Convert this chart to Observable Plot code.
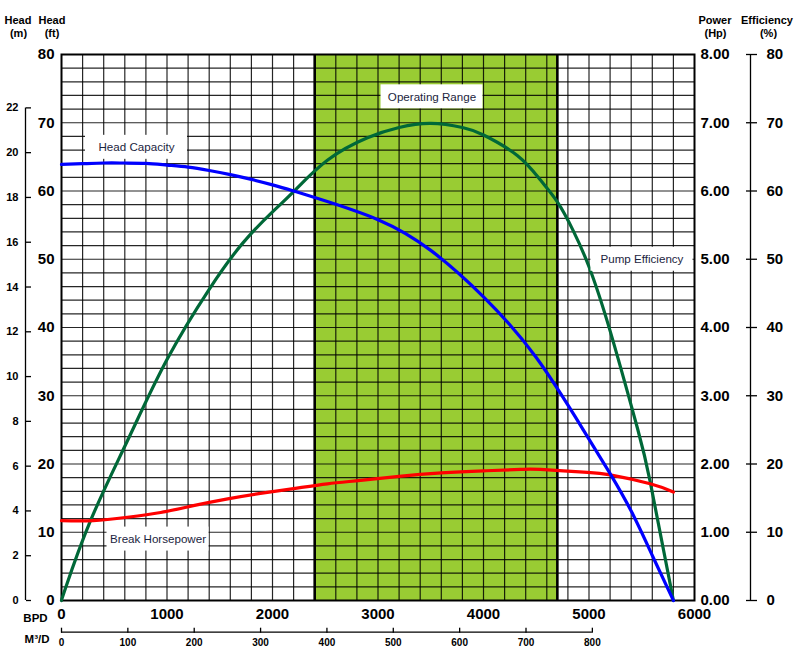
<!DOCTYPE html>
<html><head><meta charset="utf-8">
<script src="https://cdn.jsdelivr.net/npm/d3@7"></script>
<script src="https://cdn.jsdelivr.net/npm/@observablehq/plot@0.6"></script>
<style>html,body{margin:0;padding:0;background:#fff}svg{display:block}</style>
</head><body><div id="chart"></div>
<script>
// ---- Data ----
// Head capacity (ft) vs flow (BPD)
const headBpd = [0, 200, 400, 600, 800, 1000, 1200, 1400, 1600, 1800, 2000, 2200, 2430, 3000, 3500, 4000, 4500, 4950, 5200, 5400, 5600, 5800];
const headFt  = [63.9, 64.0, 64.1, 64.1, 64.05, 63.8, 63.5, 63.0, 62.4, 61.7, 60.9, 60.0, 58.9, 55.8, 51.3, 44.5, 35.6, 24.9, 18.6, 13.1, 6.6, 0];
// Pump efficiency (%) vs flow (BPD)
const effBpd = [0, 40, 275, 625, 1000, 1400, 1720, 2010, 2200, 2520, 2900, 3200, 3500, 3800, 4000, 4320, 4540, 4700, 4850, 5000, 5200, 5460, 5580, 5800];
const effPct = [0, 1.9, 11.7, 23.4, 35.3, 45.6, 52.4, 57.1, 59.9, 64.5, 67.8, 69.3, 69.9, 69.3, 68.2, 65.2, 61.6, 58.4, 54.2, 48.9, 39.5, 25.2, 17.4, 0];
// Break horsepower (Hp) vs flow (BPD)
const bhpBpd = [0, 300, 625, 940, 1250, 1575, 1885, 2200, 2520, 2835, 3200, 3600, 4000, 4350, 4540, 4950, 5200, 5580, 5800];
const bhpHp  = [1.17, 1.17, 1.22, 1.29, 1.39, 1.49, 1.57, 1.64, 1.71, 1.76, 1.82, 1.87, 1.90, 1.92, 1.92, 1.88, 1.84, 1.71, 1.59];
// Operating range (BPD)
const operatingRange = [2400, 4700];

// Tick labels
const bpdTicks    = [0, 1000, 2000, 3000, 4000, 5000, 6000];
const m3dTicks    = [0, 100, 200, 300, 400, 500, 600, 700, 800];
const headFtTicks = [0, 10, 20, 30, 40, 50, 60, 70, 80];
const headMTicks  = [0, 2, 4, 6, 8, 10, 12, 14, 16, 18, 20, 22];
const powerTicks  = [0, 1, 2, 3, 4, 5, 6, 7, 8];
const effTicks    = [0, 10, 20, 30, 40, 50, 60, 70, 80];

// Annotation labels (anchored in data units: BPD, ft)
const labelText = ["Head Capacity", "Operating Range", "Pump Efficiency", "Break Horsepower"];
const labelBpd  = [711, 3512, 5502, 915];
const labelFt   = [66.4, 73.8, 50.0, 9.0];

// ---- Conversions ----
const FT_PER_M = 3.28084;
const BPD_PER_M3D = 6.28981;
const FT_PER_HP = 10;   // 8.00 Hp shares the 80 line
const FT_PER_PCT = 1;   // 80 % shares the 80 line

const head = headBpd.map((x, i) => ({x, y: headFt[i]}));
const eff  = effBpd.map((x, i) => ({x, y: effPct[i] * FT_PER_PCT}));
const bhp  = bhpBpd.map((x, i) => ({x, y: bhpHp[i] * FT_PER_HP}));
const labels = labelText.map((t, i) => ({t, x: labelBpd[i], y: labelFt[i]}));

const W = 797, H = 655;
const mL = 61, mR = 103, mT = 54, mB = 55;
const font = "Liberation Sans, Arial, Helvetica, sans-serif";

// absolute-position helper for titles outside the frame
const at = (txt, px, py, o = {}) => Plot.text([txt], {
  frameAnchor: "top-left", dx: px - mL, dy: py - mT, text: d => d,
  fontSize: 11, fontWeight: "bold", fill: "#000", textAnchor: "middle", ...o
});

const halfW = 51 / ((W - mL - mR) / 6000);   // box half-width in BPD
const halfH = 12 / ((H - mT - mB) / 80);     // box half-height in ft

const chart = Plot.plot({
  width: W, height: H,
  marginLeft: mL, marginRight: mR, marginTop: mT, marginBottom: mB,
  x: {domain: [0, 6000], label: null},
  y: {domain: [0, 80], label: null},
  style: {fontFamily: font, fontSize: "10px", background: "#fff", color: "#000", overflow: "visible"},
  marks: [
    // operating range band
    Plot.rect([operatingRange], {x1: d => d[0], x2: d => d[1], y1: 0, y2: 80, fill: "#99CC33"}),
    // grid
    Plot.ruleY(d3.range(2, 80, 2), {stroke: "#000", strokeWidth: 1.2, strokeOpacity: 0.85}),
    Plot.ruleX(d3.range(200, 6000, 200), {stroke: "#000", strokeWidth: 1.2, strokeOpacity: 0.85}),
    Plot.ruleX(operatingRange, {stroke: "#000", strokeWidth: 2.6}),
    Plot.frame({stroke: "#000", strokeWidth: 2}),

    // curves
    Plot.line(eff,  {x: "x", y: "y", stroke: "#006838", strokeWidth: 3.2, curve: "natural"}),
    Plot.line(bhp,  {x: "x", y: "y", stroke: "#FF0000", strokeWidth: 3.2, curve: "natural"}),
    Plot.line(head, {x: "x", y: "y", stroke: "#0000FF", strokeWidth: 3.2, curve: "natural"}),

    // annotation boxes + text
    Plot.rect(labels, {x1: d => d.x - halfW, x2: d => d.x + halfW, y1: d => d.y - halfH, y2: d => d.y + halfH, fill: "#fff"}),
    Plot.text(labels, {x: "x", y: "y", text: "t", fontSize: 11.6, fill: "#1b2440", fontFamily: font}),

    // Head (ft) labels
    Plot.axisY(headFtTicks, {anchor: "left", tickSize: 0, tickPadding: 7, fontSize: 15, fontWeight: "bold", label: null, tickFormat: d => String(d)}),
    // Head (m) axis
    Plot.ruleX([0], {y1: 0, y2: 22 * FT_PER_M, dx: -36, stroke: "#000", strokeWidth: 1.3}),
    Plot.axisY(headMTicks.map(m => m * FT_PER_M), {anchor: "right", dx: 25 - (W - mR), tickSize: 5, tickFormat: () => "", label: null, strokeWidth: 1.3}),
    Plot.axisY(headMTicks.map(m => m * FT_PER_M), {anchor: "left", dx: -36, tickSize: 0, tickPadding: 7, fontSize: 11, fontWeight: "bold", label: null, tickFormat: d => String(Math.round(d / FT_PER_M))}),
    // Power (Hp) labels
    Plot.axisY(powerTicks.map(p => p * FT_PER_HP), {anchor: "right", tickSize: 0, tickPadding: 6, fontSize: 15, fontWeight: "bold", label: null, tickFormat: d => (d / FT_PER_HP).toFixed(2)}),
    // Efficiency (%) axis
    Plot.ruleX([6000], {y1: 0, y2: 80, dx: 56, stroke: "#000", strokeWidth: 1.3}),
    Plot.axisY(effTicks.map(e => e * FT_PER_PCT), {anchor: "right", dx: 51, tickSize: 11, tickFormat: () => "", label: null, strokeWidth: 1.3}),
    Plot.axisY(effTicks.map(e => e * FT_PER_PCT), {anchor: "right", dx: 72, tickSize: 0, tickPadding: 0, fontSize: 15, fontWeight: "bold", label: null, tickFormat: d => String(Math.round(d / FT_PER_PCT))}),

    // BPD labels
    Plot.axisX(bpdTicks, {anchor: "bottom", tickSize: 0, tickPadding: 8, fontSize: 15, fontWeight: "bold", label: null, tickFormat: d => String(d)}),
    // M3/D axis
    Plot.ruleY([0], {x1: 0, x2: 800 * BPD_PER_M3D, dy: 31.7, stroke: "#000", strokeWidth: 1.3}),
    Plot.axisX(m3dTicks.map(m => m * BPD_PER_M3D), {anchor: "top", dy: 631.7 - mT, tickSize: 5, tickFormat: () => "", label: null, strokeWidth: 1.3}),
    Plot.axisX(m3dTicks.map(m => m * BPD_PER_M3D), {anchor: "bottom", dy: 32, tickSize: 0, tickPadding: 6, fontSize: 10, fontWeight: "bold", label: null, tickFormat: d => String(Math.round(d / BPD_PER_M3D))}),

    // titles
    at("Head", 17.5, 15.5), at("(m)", 18, 29),
    at("Head", 51.5, 15.5), at("(ft)", 51.5, 29),
    at("Power", 714.5, 15.5), at("(Hp)", 715, 29),
    at("Efficiency", 766.5, 15.5), at("(%)", 768, 29),
    at("BPD", 35, 613.5, {fontSize: 11.5}),
    at("M³/D", 36.5, 634, {fontSize: 11.5})
  ]
});
document.getElementById("chart").appendChild(chart);
</script>
</body></html>
